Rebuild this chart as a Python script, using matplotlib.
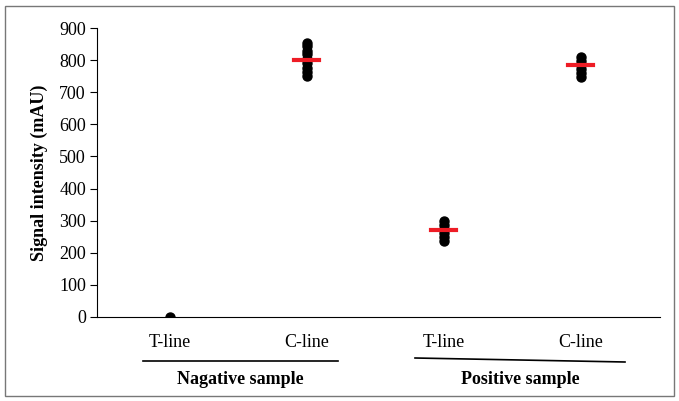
import numpy as np
import matplotlib
matplotlib.use("Agg")
import matplotlib.pyplot as plt
from matplotlib.patches import Rectangle
from matplotlib.lines import Line2D

# data
categories = ["T-line", "C-line", "T-line", "C-line"]
groups = ["Nagative sample", "Positive sample"]
neg_t = [0]
neg_c = [750, 762, 775, 790, 805, 818, 830, 843, 855]
pos_t = [238, 250, 262, 275, 288, 300]
pos_c = [748, 760, 772, 785, 798, 810]
means = [None, 800, 270, 785]
yticks = [0, 100, 200, 300, 400, 500, 600, 700, 800, 900]

plt.rcParams["font.family"] = ["Liberation Serif", "DejaVu Serif"]

fig = plt.figure(figsize=(6.79, 4.01), dpi=100)
ax = fig.add_axes([0.143, 0.2095, 0.829, 0.7205])

series = [neg_t, neg_c, pos_t, pos_c]
for i, vals in enumerate(series, start=1):
    ax.scatter([i] * len(vals), vals, s=42, color="black", zorder=3)
    if means[i - 1] is not None:
        ax.plot([i - 0.09, i + 0.09], [means[i - 1]] * 2, color="#ee1c25", lw=3, zorder=4)

ax.set_xlim(0.47, 4.58)
ax.set_ylim(0, 900)
ax.set_yticks(yticks)
ax.set_yticklabels([str(v) for v in yticks], fontsize=13)
ax.set_xticks([1, 2, 3, 4])
ax.set_xticklabels(categories, fontsize=13)
ax.tick_params(axis="x", length=0, pad=12)
ax.tick_params(axis="y", length=5, direction="out", pad=3)
ax.spines["top"].set_visible(False)
ax.spines["right"].set_visible(False)
ax.set_ylabel("Signal intensity (mAU)", fontsize=13, fontweight="bold", labelpad=8)

# group underlines and labels
W, H = 679, 401
fig.add_artist(Line2D([143 / W, 338 / W], [1 - 361 / H] * 2, color="black", lw=1.2))
fig.add_artist(Line2D([415 / W, 625 / W], [1 - 358 / H, 1 - 362 / H], color="black", lw=1.2))
fig.text(240 / W, 1 - 379 / H, groups[0], ha="center", va="center", fontsize=13, fontweight="bold")
fig.text(520 / W, 1 - 379 / H, groups[1], ha="center", va="center", fontsize=13, fontweight="bold")

# outer frame
fig.add_artist(Rectangle((5 / W, 5 / H), 669 / W, 390 / H, fill=False, ec="#777777", lw=1,
                         transform=fig.transFigure))

fig.savefig("out.png", dpi=100)
